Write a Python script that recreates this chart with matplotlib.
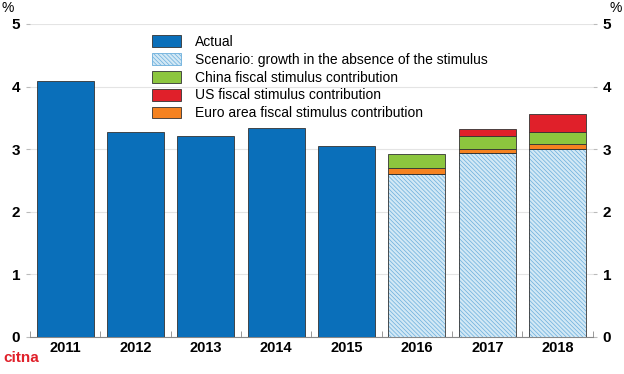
import numpy as np
import matplotlib
matplotlib.use("Agg")
import matplotlib.pyplot as plt
from matplotlib.patches import Patch

plt.rcParams["font.family"] = ["Liberation Sans", "DejaVu Sans"]
plt.rcParams["hatch.linewidth"] = 0.5

years = ["2011", "2012", "2013", "2014", "2015", "2016", "2017", "2018"]
actual = [4.09, 3.27, 3.21, 3.34, 3.05]
scen_years = ["2016", "2017", "2018"]
scenario = [2.60, 2.94, 3.01]
euro = [0.10, 0.06, 0.07]
china = [0.23, 0.21, 0.19]
us = [0.00, 0.11, 0.29]

C_ACT = "#0a6fba"
C_SCEN = "#d2e8f5"
C_HATCH = "#6aaedc"
C_CHINA = "#8cc63e"
C_US = "#e0202a"
C_EURO = "#f58220"
EDGE = "#333333"
HATCH = "\\" * 8

fig = plt.figure(figsize=(6.24, 3.74), dpi=100)
ax = fig.add_axes([0.048, 0.099, 0.902, 0.837])

x = np.arange(len(years))
xa = x[:len(actual)]
xs = x[len(actual):]
w = 0.81

ax.bar(xa, actual, w, color=C_ACT, edgecolor=EDGE, linewidth=0.6, zorder=3)

# scenario: hatch drawn with its own colour, outline drawn separately
ax.bar(xs, scenario, w, color=C_SCEN, edgecolor=C_HATCH, hatch=HATCH,
       linewidth=0, zorder=3)
ax.bar(xs, scenario, w, fill=False, edgecolor=EDGE, linewidth=0.6, zorder=4)
b = np.array(scenario)
ax.bar(xs, euro, w, bottom=b, color=C_EURO, edgecolor=EDGE, linewidth=0.6, zorder=3)
b = b + np.array(euro)
ax.bar(xs, china, w, bottom=b, color=C_CHINA, edgecolor=EDGE, linewidth=0.6, zorder=3)
b = b + np.array(china)
us_arr = np.array(us)
m = us_arr > 0
ax.bar(xs[m], us_arr[m], w, bottom=b[m], color=C_US, edgecolor=EDGE,
       linewidth=0.6, zorder=3)

ax.set_xlim(-0.5, len(years) - 0.5)
ax.set_ylim(0, 5)
ax.set_yticks(range(6))
ax.grid(axis="y", color="#e4e4e4", linewidth=0.8, zorder=0)
for s in ["top", "left", "right"]:
    ax.spines[s].set_visible(False)
ax.spines["bottom"].set_color("#888888")
ax.spines["bottom"].set_linewidth(0.8)

ax.set_xticks(x)
ax.set_xticklabels(years, fontsize=10.5, fontweight="bold")
ax.tick_params(axis="x", length=0, pad=3)
ax.set_xticks(np.arange(-0.5, len(years)), minor=True)
ax.tick_params(axis="x", which="minor", direction="in", length=4, color="#888888")
ax.tick_params(axis="y", length=3, color="#bbbbbb", labelsize=11,
               left=True, right=True, labelleft=True, labelright=True, pad=4)
for lab in ax.get_yticklabels():
    lab.set_fontweight("bold")

fig.text(0.003, 0.978, "%", fontsize=10, ha="left", va="center")
fig.text(0.997, 0.978, "%", fontsize=10, ha="right", va="center")

handles = [
    Patch(facecolor=C_ACT, edgecolor=EDGE, linewidth=0.6),
    Patch(facecolor=C_SCEN, edgecolor=C_HATCH, hatch=HATCH, linewidth=0.6),
    Patch(facecolor=C_CHINA, edgecolor=EDGE, linewidth=0.6),
    Patch(facecolor=C_US, edgecolor=EDGE, linewidth=0.6),
    Patch(facecolor=C_EURO, edgecolor=EDGE, linewidth=0.6),
]
labels = [
    "Actual",
    "Scenario: growth in the absence of the stimulus",
    "China fiscal stimulus contribution",
    "US fiscal stimulus contribution",
    "Euro area fiscal stimulus contribution",
]
leg = fig.legend(handles, labels, loc="upper left", bbox_to_anchor=(0.235, 0.922),
                 frameon=False, fontsize=10, handlelength=2.1, handleheight=0.95,
                 labelspacing=0.28, handletextpad=1.0, borderaxespad=0)
leg.set_zorder(5)

fig.text(0.005, 0.025, "citna", fontsize=11, fontweight="bold", color="#e0202a",
         ha="left", va="bottom")

fig.savefig("out.png", dpi=100)
